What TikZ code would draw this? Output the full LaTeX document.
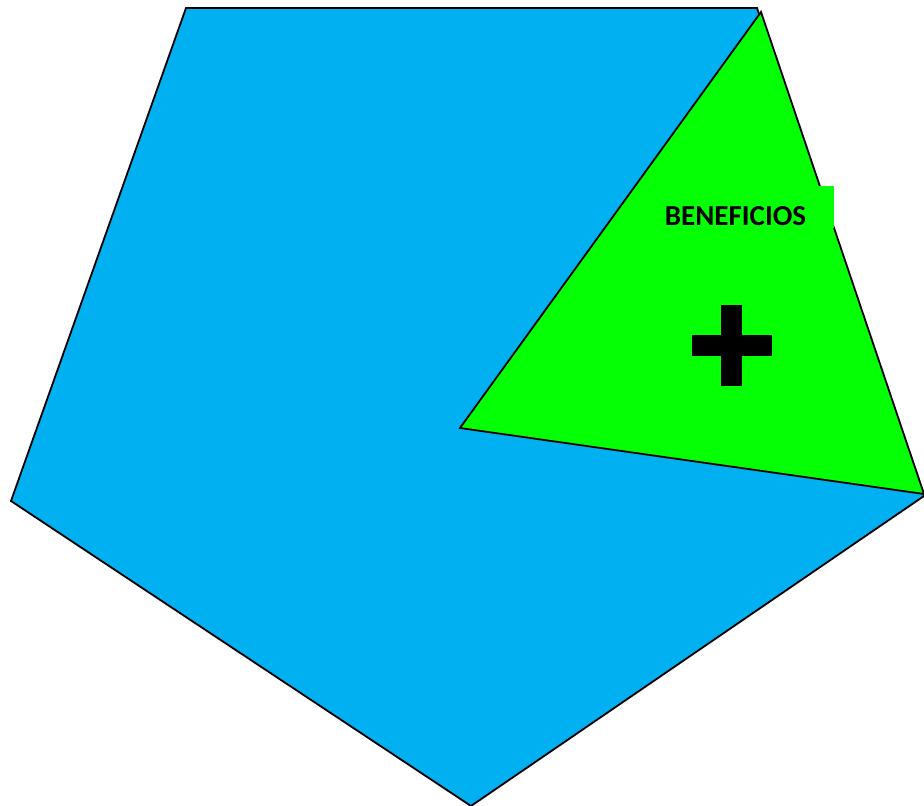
\documentclass[tikz,border=0pt]{standalone}
\usepackage{fontspec}
\newfontfamily\calib{Carlito}
\definecolor{pentblue}{HTML}{00B0F0}
\definecolor{trigreen}{HTML}{05FF05}
\tikzset{
  shapeline/.style={draw=black, line width=1.8pt, line join=miter},
}
\begin{document}
\begin{tikzpicture}[x=1pt,y=-1pt]
\useasboundingbox (0,0) rectangle (924,806);
% pentagon
\coordinate (p1) at (186,8);
\coordinate (p2) at (757,8);
\coordinate (p3) at (924,496);
\coordinate (p4) at (471,806);
\coordinate (p5) at (11,501);
\filldraw[shapeline, fill=pentblue] (p1) -- (p2) -- (p3) -- (p4) -- (p5) -- cycle;
% green triangle
\coordinate (t1) at (761,12);
\coordinate (t2) at (460,428);
\coordinate (t3) at (924,494);
\filldraw[shapeline, fill=trigreen] (t1) -- (t2) -- (t3) -- cycle;
% text background
\fill[trigreen] (650,186) rectangle (834,228);
\node[font=\calib\bfseries\fontsize{29}{32}\selectfont, inner sep=0pt] (lbl) at (735.5,216) {BENEFICIOS};
% plus sign
\fill[black] (721,305) rectangle (742,386);
\fill[black] (692,335) rectangle (772,356);
\node[inner sep=0pt, minimum size=0pt] (plus) at (732,345) {};
\end{tikzpicture}
\end{document}
